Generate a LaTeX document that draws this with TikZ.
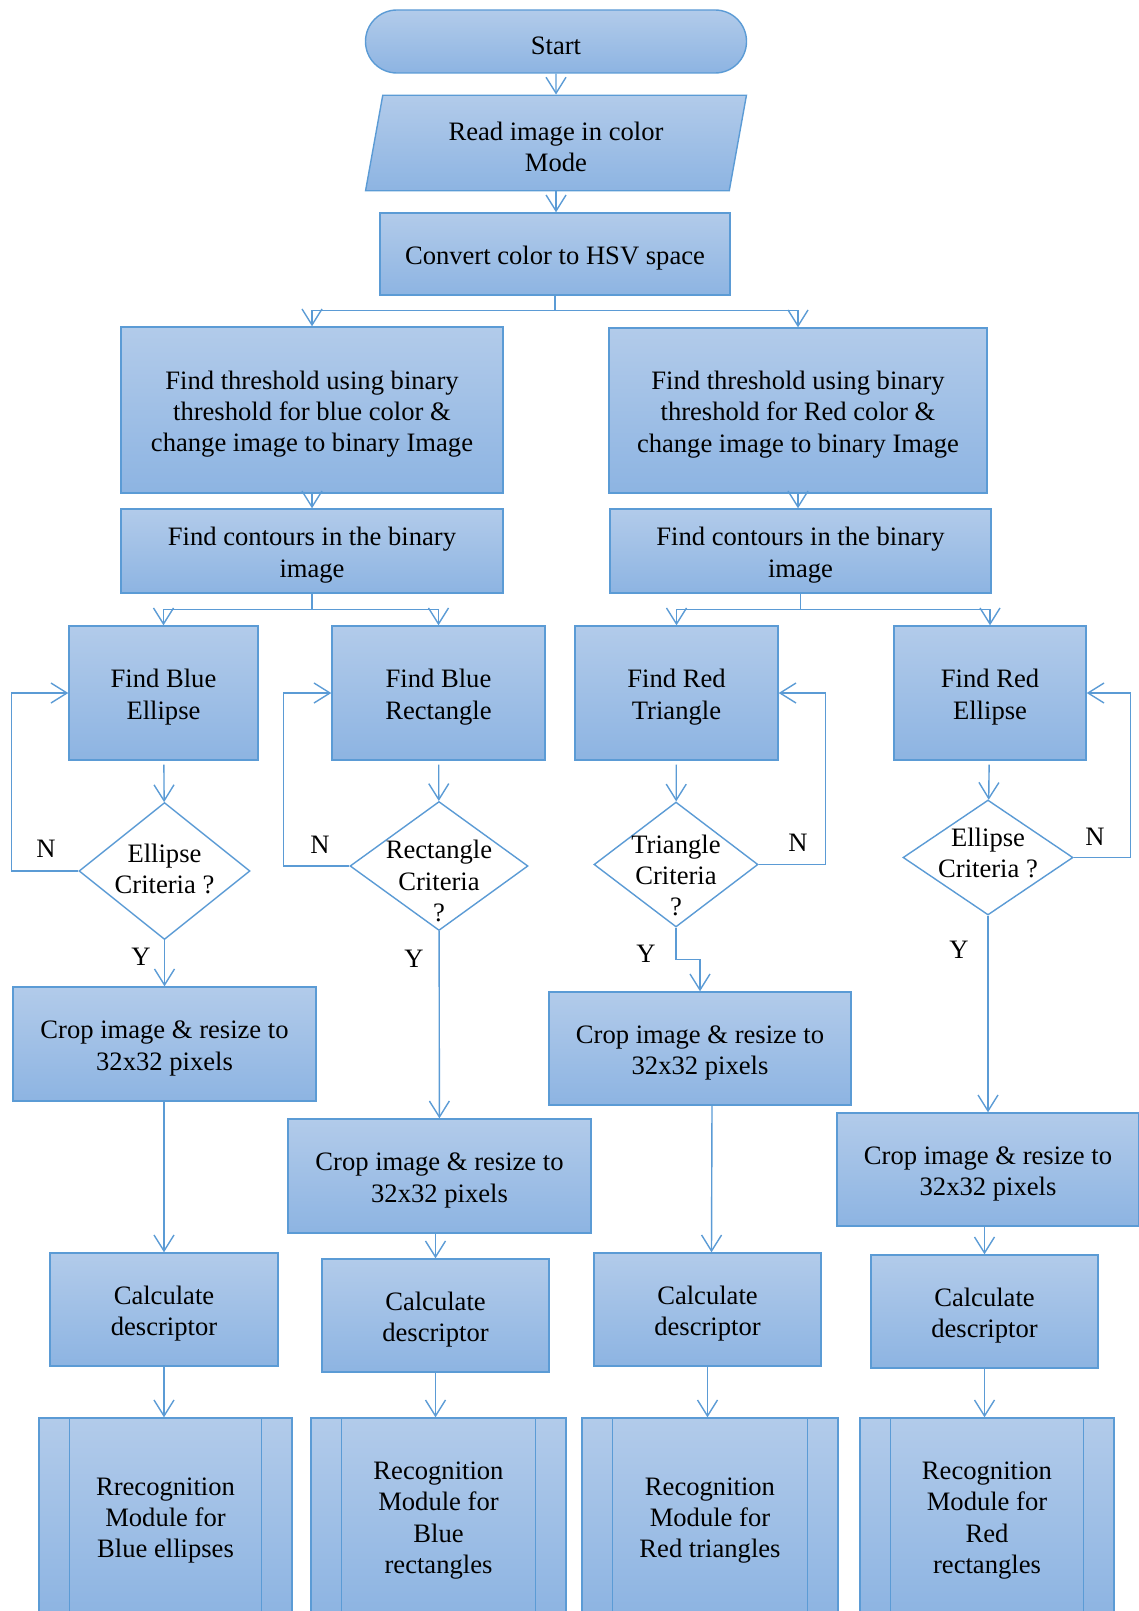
\documentclass[tikz,border=0pt]{standalone}
\usepackage{fontspec}
\setmainfont{Liberation Serif}
\usetikzlibrary{arrows.meta,calc,shapes.geometric}

\definecolor{edge}{RGB}{91,155,213}
\definecolor{filltop}{RGB}{178,203,234}
\definecolor{fillbot}{RGB}{141,180,226}

\begin{document}
\begin{tikzpicture}[x=0.5pt,y=-0.5pt,line width=0.7pt,
    every node/.style={font=\fontsize{13.3}{15.7}\selectfont,align=center,inner sep=2pt},
    >={Straight Barb[length=8pt,width=10pt]},
    box/.style 2 args={draw=edge,top color=filltop,bottom color=fillbot,
      minimum width=#1*0.5pt,minimum height=#2*0.5pt,text width=#1*0.5pt-10pt,
      align=flush center,execute at begin node={\rule{0pt}{13.3pt}}},
    dia/.style 2 args={diamond,draw=edge,fill=white,inner sep=0pt,
      minimum width=#1*0.5pt,minimum height=#2*0.5pt},
    conn/.style={draw=edge,->}]
  \path[use as bounding box,clip](0,0)rectangle(1139,1611);
  % top of the chart
  \node[box={381}{63},rounded corners=15.7pt](start)at(556,41.5){Start};
  \node[trapezium,trapezium left angle=77,trapezium right angle=103,
    trapezium stretches=true,draw=edge,top color=filltop,bottom color=fillbot,
    minimum width=190.5pt,minimum height=47.75pt,text width=150pt,align=flush center,
    execute at begin node={\rule{0pt}{13.3pt}}](read)at(556,143){Read image in color\\Mode};
  \node[box={350}{82}](hsv)at(555,254){Convert color to HSV space};
  \node[box={382}{166}](thrB)at(312,410){Find threshold using binary\\threshold for blue color \&\\change image to binary Image};
  \node[box={378}{165}](thrR)at(798,410.5){Find threshold using binary\\threshold for Red color \&\\change image to binary Image};
  \node[box={382}{84}](conB)at(312,551){Find contours in the binary\\image};
  \node[box={381}{84}](conR)at(800.5,551){Find contours in the binary\\image};
  % four columns
  \node[box={189}{134}](findBE)at(163.5,693){Find Blue\\Ellipse};
  \node[box={213}{134}](findBR)at(438.5,693){Find Blue\\Rectangle};
  \node[box={203}{134}](findRT)at(676.5,693){Find Red\\Triangle};
  \node[box={192}{134}](findRE)at(990,693){Find Red\\Ellipse};
  \node[dia={171}{137}](diaBE)at(164.5,871){};
  \node[dia={178}{129}](diaBR)at(439,866){};
  \node[dia={164}{125}](diaRT)at(676,864.5){};
  \node[dia={170}{115}](diaRE)at(988,857.5){};
  \node(tBE)at($(diaBE)+(0,-2)$){Ellipse\\Criteria ?};
  \node(tBR)at($(diaBR)+(0,15)$){Rectangle\\Criteria\\?};
  \node(tRT)at($(diaRT)+(0,11)$){Triangle\\Criteria\\?};
  \node(tRE)at($(diaRE)+(0,-4.5)$){Ellipse\\Criteria ?};
  \node[box={303}{114}](cropBE)at(164.5,1044){Crop image \& resize to\\32x32 pixels};
  \node[box={303}{114}](cropBR)at(439.5,1176){Crop image \& resize to\\32x32 pixels};
  \node[box={302}{113}](cropRT)at(700,1048.5){Crop image \& resize to\\32x32 pixels};
  \node[box={302}{113}](cropRE)at(988,1169.5){Crop image \& resize to\\32x32 pixels};
  \node[box={228}{113}](calcBE)at(164,1309.5){Calculate\\descriptor};
  \node[box={227}{113}](calcBR)at(435.5,1315.5){Calculate\\descriptor};
  \node[box={227}{113}](calcRT)at(707.5,1309.5){Calculate\\descriptor};
  \node[box={227}{113}](calcRE)at(984.5,1311.5){Calculate\\descriptor};
  \node[box={253}{196}](recBE)at(165.5,1516){Rrecognition\\Module for\\Blue ellipses};
  \node[box={255}{196}](recBR)at(438.5,1516){Recognition\\Module for\\Blue\\rectangles};
  \node[box={256}{196}](recRT)at(710,1516){Recognition\\Module for\\Red triangles};
  \node[box={254}{196}](recRE)at(987,1516){Recognition\\Module for\\Red\\rectangles};
  \foreach \c in {BE,BR,RT,RE}
    \draw[edge]([xshift=15.5pt]rec\c.north west)--([xshift=15.5pt]rec\c.south west)
      ([xshift=-15.5pt]rec\c.north east)--([xshift=-15.5pt]rec\c.south east);
  % Y and N
  \node(nBE)at(46,849){N};
  \node(nBR)at(320,845){N};
  \node(nRT)at(798,843){N};
  \node(nRE)at(1095,837){N};
  \node(yBE)at(141,957){Y};
  \node(yBR)at(414,959){Y};
  \node(yRT)at(646,954){Y};
  \node(yRE)at(959,950){Y};
  % connectors
  \draw[conn](start)--(read);
  \draw[conn](read.south)--(read.south|-hsv.north);
  \draw[conn](hsv.south)--++(0,15)coordinate(splitT)-|(thrB.north);
  \draw[conn](splitT)-|(thrR.north);
  \draw[conn](thrB)--(conB);
  \draw[conn](thrR.south)--(thrR.south|-conR.north);
  \draw[conn](conB.south)--++(0,16)coordinate(splitB)-|(findBE.north);
  \draw[conn](splitB)-|(findBR.north);
  \draw[conn](conR.south)--++(0,16)coordinate(splitR)-|(findRT.north);
  \draw[conn](splitR)-|(findRE.north);
  \foreach \c in {BE,BR,RT,RE}{
    \draw[conn,shorten <=2pt](find\c)--(dia\c);
    \draw[conn](calc\c.south)--(calc\c.south|-rec\c.north);}
  \foreach \c in {BE,BR,RE}
    \draw[conn](calc\c.north|-crop\c.south)--(calc\c.north);
  \draw[conn]([xshift=6pt]cropRT.south)--([xshift=2pt]calcRT.north);
  \draw[conn](diaBE)--(cropBE);
  \draw[conn](diaBR)--(cropBR);
  \draw[conn](diaRT.south)--++(0,32)-|(cropRT.north);
  \draw[conn](diaRE)--(cropRE);
  \draw[conn](diaBE.west)--++(-67,0)|-(findBE.west);
  \draw[conn](diaBR.west)--++(-66,0)|-(findBR.west);
  \draw[conn](diaRT.east)--++(67,0)|-(findRT.east);
  \draw[conn](diaRE.east)--++(57,0)|-(findRE.east);
\end{tikzpicture}
\end{document}
